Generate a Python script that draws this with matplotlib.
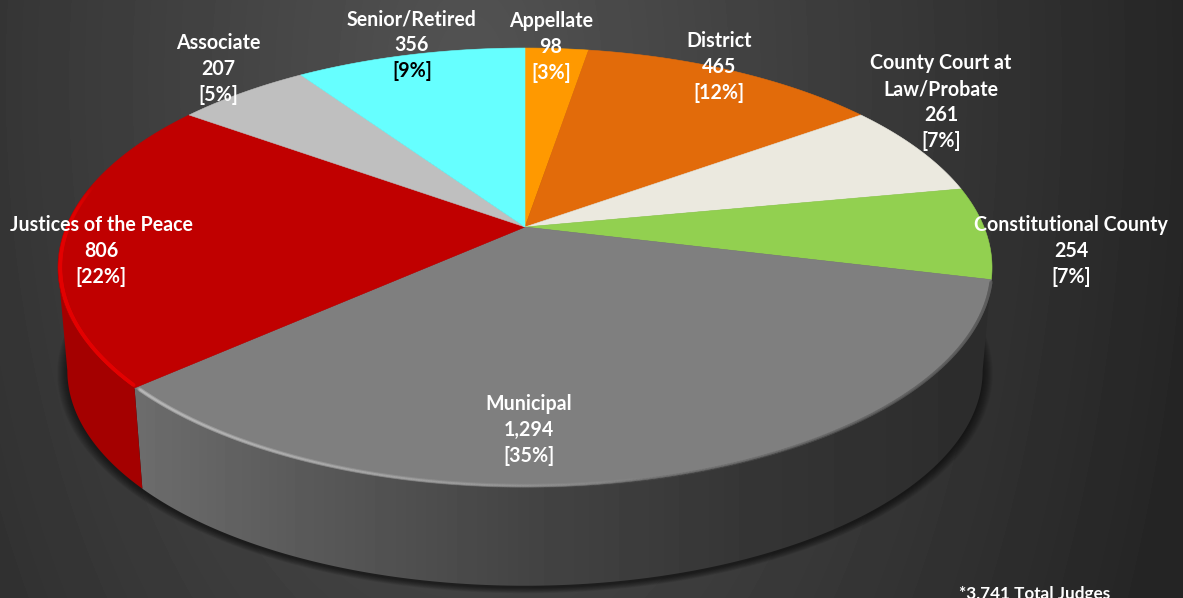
from __future__ import annotations

import matplotlib
import numpy as np

matplotlib.use("Agg")

from matplotlib import pyplot as plt
from matplotlib.collections import LineCollection
from matplotlib.colors import LinearSegmentedColormap
from matplotlib.patches import Polygon


WIDTH = 1183
HEIGHT = 598

CATEGORIES = [
    ["Appellate"],
    ["District"],
    ["County Court at", "Law/Probate"],
    ["Constitutional County"],
    ["Municipal"],
    ["Justices of the Peace"],
    ["Associate"],
    ["Senior/Retired"],
]
JUDGES = [98, 465, 261, 254, 1294, 806, 207, 356]
JUDGE_LABELS = ["98", "465", "261", "254", "1,294", "806", "207", "356"]
PERCENT_LABELS = ["[3%]", "[12%]", "[7%]", "[7%]", "[35%]", "[22%]", "[5%]", "[9%]"]
FOOTNOTE = "*3,741 Total Judges"

TOP_COLORS = ["#ff9900", "#e26b0a", "#ebe9df", "#92d050", "#7f7f7f", "#c00000", "#bfbfbf", "#66ffff"]
PERCENT_COLORS = ["white", "white", "white", "white", "white", "white", "white", "black"]
LABEL_CENTERS = [
    (551, 21), (719, 41), (941, 63), (1071, 225),
    (529, 404), (101, 225), (218, 43), (412, 19),
]
LINE_STEP = 26

# projected disc: the viewer side of the circle is drawn larger than the far side
CENTER_X = 525
TOP_CENTER_Y = 227
BOTTOM_CENTER_Y = 331
BOTTOM_SCALE = 0.98
RADIUS_X = 459
RADIUS_Y = 212
PERSPECTIVE = 0.1845
# angles where the disc outline is widest on screen
RIGHT_EXTREME = np.radians(100.6)
LEFT_EXTREME = np.radians(259.4)


def project(angle, center_y=TOP_CENTER_Y, scale=1.0):
    # angle is in radians, clockwise from twelve o'clock
    u = np.sin(angle)
    v = -np.cos(angle)
    w = 1.0 - PERSPECTIVE * v
    return CENTER_X + scale * RADIUS_X * u / w, center_y + scale * RADIUS_Y * v / w


def background() -> np.ndarray:
    yy, xx = np.mgrid[0:HEIGHT, 0:WIDTH]
    distance = np.hypot((xx - 470) / 700.0, (yy - 80) / 1250.0)
    return np.clip(0x53 - 0x2c * distance, 0x24, 0x53)


def draw_shadow(axis) -> None:
    angles = np.linspace(0, 2 * np.pi, 500)
    for spread in np.linspace(10, 0, 11):
        x, y = project(angles, BOTTOM_CENTER_Y + 2, BOTTOM_SCALE * (1 + spread / 460))
        axis.add_patch(Polygon(np.column_stack([x, y]), facecolor="black", edgecolor="none", alpha=0.06, zorder=1))


def draw_side(axis, start, stop, image, color_map, zorder) -> None:
    angles = np.linspace(start, stop, 300)
    top_x, top_y = project(angles)
    bottom_x, bottom_y = project(angles[::-1], BOTTOM_CENTER_Y, BOTTOM_SCALE)
    outline = np.column_stack([np.r_[top_x, bottom_x], np.r_[top_y, bottom_y]])
    patch = Polygon(outline, facecolor="none", edgecolor="none", zorder=zorder)
    axis.add_patch(patch)
    side = axis.imshow(image, extent=(0, WIDTH, HEIGHT, 0), cmap=color_map, vmin=0, vmax=255, aspect="auto", zorder=zorder)
    side.set_clip_path(patch)


def draw_rim(axis, start, stop, color, width, strength, scale=0.995) -> None:
    # bevel highlight that runs along the front edge and fades with the angle
    angles = np.linspace(start, stop, 240)
    x, y = project(angles, TOP_CENTER_Y, scale)
    points = np.column_stack([x, y])
    segments = np.stack([points[:-1], points[1:]], axis=1)
    rgba = np.tile(matplotlib.colors.to_rgba(color), (len(segments), 1))
    rgba[:, 3] = strength(np.linspace(0, 1, len(segments)))
    axis.add_collection(LineCollection(segments, colors=rgba, linewidths=width, zorder=4, capstyle="round"))


def main() -> None:
    plt.rcParams["font.family"] = ["Lato", "DejaVu Sans"]
    figure = plt.figure(figsize=(WIDTH / 100, HEIGHT / 100), dpi=100)
    axis = figure.add_axes([0, 0, 1, 1])

    gray_map = LinearSegmentedColormap.from_list("gray_ramp", ["black", "white"])
    axis.imshow(background(), extent=(0, WIDTH, HEIGHT, 0), cmap=gray_map, vmin=0, vmax=255, aspect="auto", zorder=0)
    draw_shadow(axis)

    edges = np.r_[0, np.cumsum(JUDGES)] / np.sum(JUDGES) * 2 * np.pi
    municipal_start, municipal_stop = edges[4], edges[5]

    # front walls, only the municipal and justices slices face the viewer
    columns = np.arange(WIDTH)
    municipal_ramp = np.interp(columns, [142, 300, 525, 750, 985], [0x6c, 0x5a, 0x44, 0x35, 0x2c])
    draw_side(axis, RIGHT_EXTREME, municipal_stop, municipal_ramp[np.newaxis, :], gray_map, 2)
    red_map = LinearSegmentedColormap.from_list("red_ramp", ["#a40000", "#a40000"])
    draw_side(axis, municipal_stop, LEFT_EXTREME, np.zeros((1, 2)), red_map, 2)

    for index, color in enumerate(TOP_COLORS):
        angles = np.linspace(edges[index], edges[index + 1], 120)
        x, y = project(angles)
        outline = np.column_stack([np.r_[CENTER_X, x], np.r_[TOP_CENTER_Y, y]])
        axis.add_patch(Polygon(outline, facecolor=color, edgecolor=color, linewidth=0.4, zorder=3))

    # soft edge on the dark side of the municipal wall, then the lit bevels
    draw_rim(axis, municipal_start + 0.01, np.radians(190), "#5c5c5c", 2.2, lambda p: 0.8 * (1 - p), scale=1.0)
    draw_rim(axis, municipal_stop - 0.01, np.radians(165), "#a8a8a8", 3.0, lambda p: 0.45 * (1 - p))
    draw_rim(axis, municipal_stop - 0.01, np.radians(165), "#bcbcbc", 1.4, lambda p: 0.6 * (1 - p))
    draw_rim(axis, municipal_stop + 0.01, np.radians(282), "#e40000", 2.6, lambda p: 0.95 * (1 - p ** 3))

    for names, count, percent, percent_color, (x, y) in zip(CATEGORIES, JUDGE_LABELS, PERCENT_LABELS, PERCENT_COLORS, LABEL_CENTERS, strict=True):
        for offset, line in enumerate([*names, count]):
            axis.text(x, y + offset * LINE_STEP, line, color="white", fontsize=14.1, fontweight="bold", ha="center", va="center", zorder=5)
        axis.text(x, y + (len(names) + 1) * LINE_STEP, percent, color=percent_color, fontsize=14.1, fontweight="bold", ha="center", va="center", zorder=5)

    axis.text(1035, 594, FOOTNOTE, color="white", fontsize=12.3, fontweight="bold", ha="center", va="center", zorder=5)

    axis.set_xlim(0, WIDTH)
    axis.set_ylim(HEIGHT, 0)
    axis.axis("off")
    figure.savefig("out.png", dpi=100)
    plt.close(figure)


if __name__ == "__main__":
    main()
